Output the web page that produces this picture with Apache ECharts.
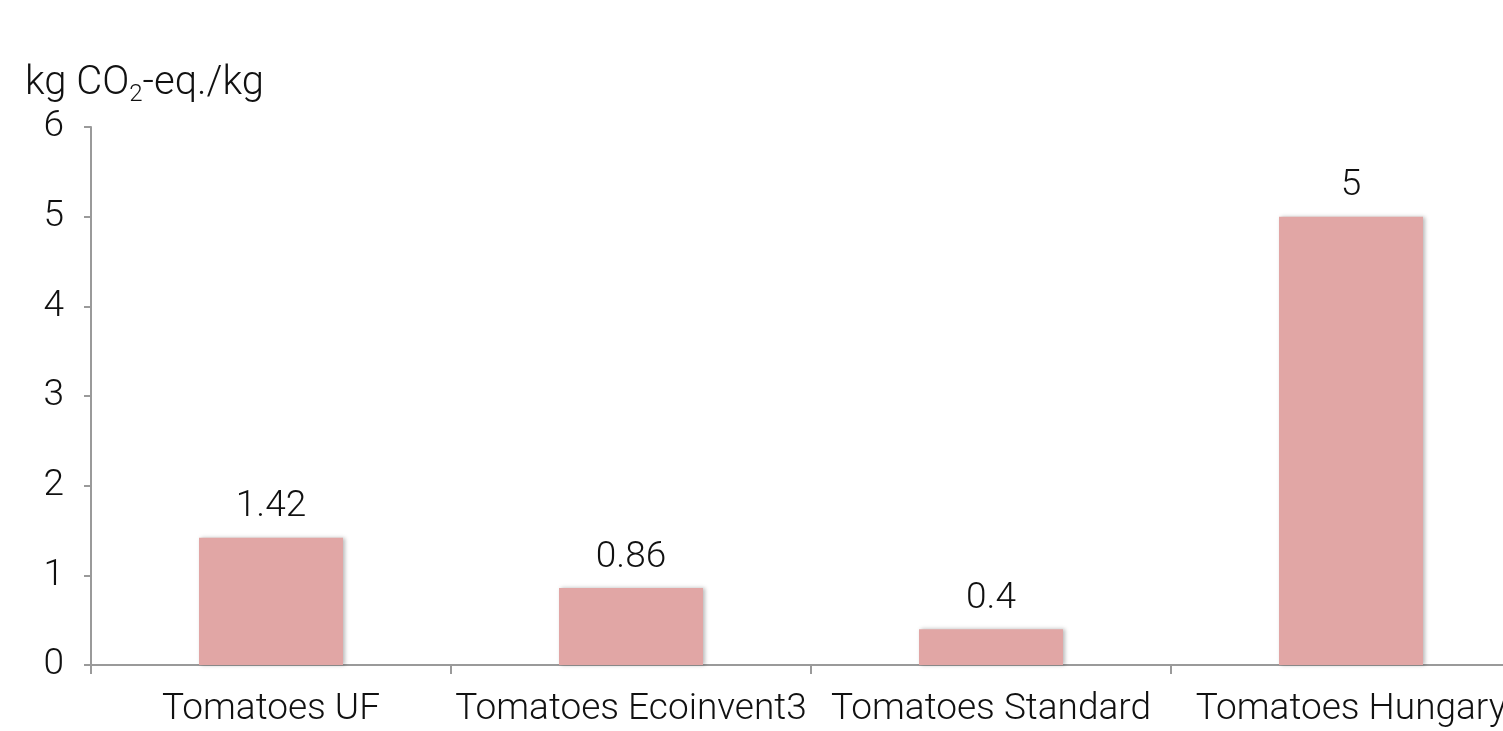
<!DOCTYPE html>
<html>
<head>
<meta charset="utf-8">
<script src="https://cdn.jsdelivr.net/npm/echarts@6/dist/echarts.min.js"></script>
<style>
  html, body { margin: 0; padding: 0; background: #fff; overflow: hidden; width: 1503px; height: 731px; }
  /* canvas is wider than the window, so the right end of the axis is cut off */
  #chart { width: 1545px; height: 731px; }
</style>
</head>
<body>
<div id="chart"></div>
<script>
// Carbon footprint of tomatoes by source
const categories = ['Tomatoes UF', 'Tomatoes Ecoinvent3', 'Tomatoes Standard', 'Tomatoes Hungary'];
const footprint = [1.42, 0.86, 0.4, 5];
const yTicks = [0, 1, 2, 3, 4, 5, 6];

const FONT = 'Roboto';
const SIZE = 37;
const chart = echarts.init(document.getElementById('chart'));

chart.setOption({
  animation: false,
  backgroundColor: '#ffffff',
  title: {
    left: 20,
    top: 56,
    text: '{a|kg CO}{s|2}{a|-eq./kg}',
    textStyle: {
      rich: {
        a: { fontFamily: FONT, fontWeight: 300, fontSize: 40, color: '#111' },
        s: { fontFamily: FONT, fontWeight: 300, fontSize: 24, color: '#111', padding: [22, 0, 0, 0] }
      }
    }
  },
  grid: { left: 91, width: 1440, top: 127, bottom: 66 },
  xAxis: {
    type: 'category',
    data: categories,
    axisLine: { lineStyle: { color: '#9a9a9a', width: 2 } },
    axisTick: { show: true, length: 9, lineStyle: { color: '#9a9a9a', width: 2 } },
    axisLabel: { color: '#111', fontFamily: FONT, fontWeight: 300, fontSize: SIZE, margin: 26, interval: 0 }
  },
  yAxis: {
    type: 'value',
    min: yTicks[0],
    max: yTicks[yTicks.length - 1],
    interval: 1,
    splitLine: { show: false },
    axisLine: { show: true, lineStyle: { color: '#9a9a9a', width: 2 } },
    axisTick: { show: true, length: 7, lineStyle: { color: '#9a9a9a', width: 2 } },
    axisLabel: { color: '#111', fontFamily: FONT, fontWeight: 300, fontSize: SIZE, margin: 27 }
  },
  series: [{
    type: 'bar',
    data: footprint,
    barWidth: '40%',
    itemStyle: {
      color: '#e1a6a5',
      shadowColor: 'rgba(0,0,0,0.28)',
      shadowBlur: 4,
      shadowOffsetX: 2,
      shadowOffsetY: 0
    },
    label: {
      show: true,
      position: 'top',
      distance: 12,
      color: '#111',
      fontFamily: FONT,
      fontWeight: 300,
      fontSize: SIZE
    }
  }]
});
</script>
</body>
</html>
